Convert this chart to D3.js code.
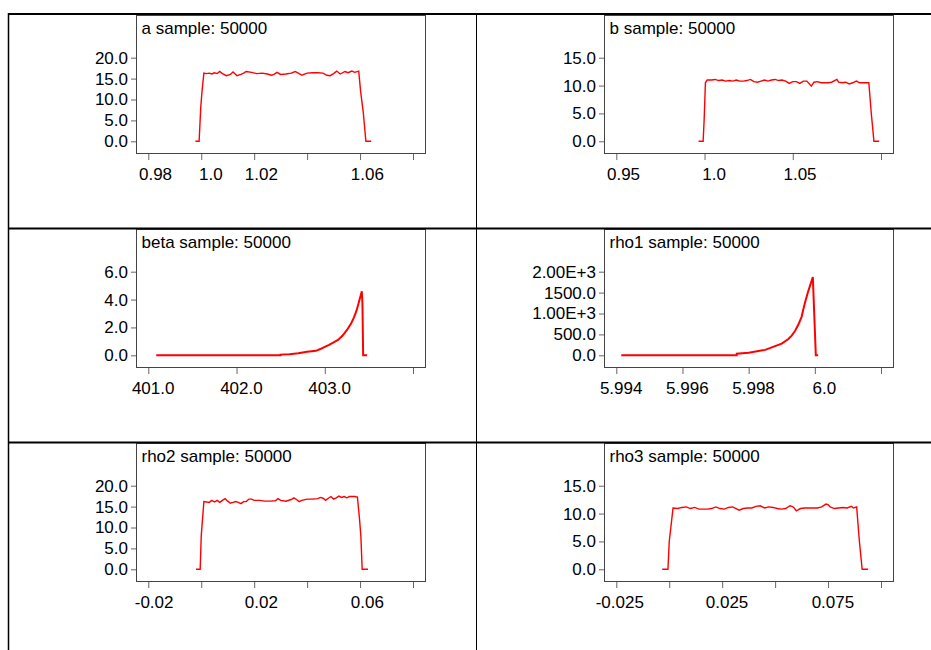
<!DOCTYPE html>
<html lang="en">
<head>
    <meta charset="UTF-8">
    <title>Density samples</title>
    <script src="https://d3js.org/d3.v7.min.js"></script>
    <style>
        body { margin: 0; background: white; }
        text { font-family: 'Liberation Sans', Arial, sans-serif; }
    </style>
</head>
<body>
<script>

    const titles = ["a sample: 50000", "b sample: 50000", "beta sample: 50000",
                    "rho1 sample: 50000", "rho2 sample: 50000", "rho3 sample: 50000"];

    // density curves, [value, density]
    const aDens = [[0.9978,0],[0.9992,0],[0.9998,8],[1.0003,12],[1.0010,16.3],[1.002,16.2],[1.003,16.3],[1.004,16.1],
        [1.005,16.4],[1.006,16.2],[1.007,16.7],[1.008,16.2],[1.0095,15.7],[1.011,16.0],[1.012,16.6],[1.0135,15.7],
        [1.015,16.0],[1.016,16.3],[1.017,16.7],[1.019,16.5],[1.021,16.2],[1.023,16.3],[1.025,16.1],[1.0265,15.8],
        [1.0275,16.0],[1.0286,16.5],[1.030,16.0],[1.032,16.1],[1.034,16.3],[1.0355,16.7],[1.037,16.2],[1.038,15.8],
        [1.040,16.3],[1.042,16.4],[1.044,16.4],[1.046,16.3],[1.0475,15.8],[1.0487,15.7],[1.050,16.2],[1.0512,16.8],
        [1.0525,16.1],[1.0543,16.7],[1.0555,16.4],[1.0569,16.8],[1.058,16.5],[1.0595,16.8],[1.0602,12],[1.0612,7],
        [1.0622,0],[1.0642,0]];
    const bDens = [[0.9966,0],[0.9992,0],[0.9998,4],[1.0005,10.5],[1.0015,11.0],[1.004,11.0],[1.006,11.1],[1.008,10.9],
        [1.010,11.0],[1.012,10.8],[1.014,10.9],[1.016,10.8],[1.018,11.0],[1.020,10.8],[1.022,10.8],[1.024,10.9],
        [1.026,11.1],[1.028,10.7],[1.030,10.6],[1.032,10.8],[1.034,11.0],[1.036,10.8],[1.038,11.0],[1.040,11.1],
        [1.042,10.9],[1.044,11.0],[1.046,10.8],[1.048,10.4],[1.050,10.7],[1.052,10.7],[1.054,10.4],[1.056,10.8],
        [1.058,10.8],[1.0605,9.9],[1.062,10.6],[1.064,10.7],[1.066,10.5],[1.068,10.5],[1.070,10.5],[1.072,10.6],
        [1.075,11.1],[1.076,10.6],[1.078,10.5],[1.080,10.6],[1.082,10.3],[1.084,10.5],[1.086,10.8],[1.088,10.5],
        [1.0931,10.5],[1.0945,5],[1.096,0],[1.099,0]];
    const betaDens = [[401.09,0],[402.50,0],[402.50,0.05],[402.6,0.08],[402.70,0.15],[402.8,0.25],[402.9,0.32],
        [402.95,0.45],[403.0,0.6],[403.05,0.75],[403.1,0.92],[403.15,1.1],[403.2,1.4],[403.25,1.8],[403.3,2.3],
        [403.33,2.7],[403.36,3.2],[403.39,3.9],[403.42,4.6],[403.427,3.7],[403.435,0],[403.48,0]];
    const rho1Dens = [[5.99415,0],[5.99764,0],[5.99764,40],[5.9980,60],[5.9985,130],[5.9988,220],[5.9990,280],
        [5.9992,390],[5.9993,470],[5.9994,580],[5.9995,730],[5.9996,920],[5.99965,1090],[5.9997,1250],
        [5.9998,1530],[5.99994,1870],[6.00003,0],[6.0001,0]];
    const rho2Dens = [[-0.0020,0],[-0.0004,0],[0.0,8],[0.001,16.2],[0.003,16.0],[0.004,16.5],[0.005,16.1],[0.006,16.5],
        [0.007,16.0],[0.008,16.5],[0.009,16.9],[0.010,16.3],[0.011,15.8],[0.012,16.0],[0.013,16.2],[0.014,16.0],
        [0.015,15.7],[0.016,16.2],[0.017,16.2],[0.018,16.8],[0.019,16.8],[0.020,16.5],[0.022,16.5],[0.024,16.3],
        [0.026,16.3],[0.028,16.4],[0.029,16.9],[0.030,16.5],[0.032,16.3],[0.034,16.7],[0.035,17.1],[0.036,16.7],
        [0.037,16.2],[0.038,16.5],[0.040,16.8],[0.042,16.8],[0.044,16.9],[0.045,17.2],[0.046,17.0],[0.047,16.5],
        [0.048,17.0],[0.049,17.4],[0.050,16.8],[0.051,17.1],[0.052,17.5],[0.053,17.2],[0.054,17.4],[0.055,17.1],
        [0.056,17.4],[0.058,17.4],[0.059,17.3],[0.0598,12],[0.0603,8],[0.0608,0],[0.063,0]];
    const rho3Dens = [[-0.0033,0],[-0.0006,0],[0.0,5],[0.0018,11.0],[0.004,10.9],[0.006,11.1],[0.008,11.2],[0.010,10.9],
        [0.012,11.1],[0.014,10.8],[0.016,10.8],[0.018,10.8],[0.020,10.9],[0.022,11.2],[0.024,10.9],[0.026,10.8],
        [0.028,11.1],[0.030,11.2],[0.032,10.8],[0.033,10.6],[0.035,10.9],[0.037,11.0],[0.039,11.0],[0.041,11.3],
        [0.043,11.4],[0.045,11.0],[0.047,11.2],[0.049,11.1],[0.051,10.9],[0.053,10.8],[0.055,10.9],[0.057,11.4],
        [0.058,11.3],[0.059,11.0],[0.060,10.5],[0.062,10.9],[0.064,11.0],[0.066,11.0],[0.068,11.0],[0.070,11.0],
        [0.072,11.2],[0.074,11.7],[0.075,11.6],[0.076,11.2],[0.078,10.9],[0.080,11.0],[0.082,11.1],[0.084,11.0],
        [0.086,11.3],[0.087,11.0],[0.0885,11.2],[0.0898,5],[0.0911,0],[0.0939,0]];

    // x ticks and labels (blank = unlabelled tick)
    const aXTicks = [0.98,1.0,1.02,1.04,1.06,1.08];     const aXLabels = ["0.98","1.0","1.02","","1.06",""];
    const bXTicks = [0.95,1.0,1.05,1.10];               const bXLabels = ["0.95","1.0","1.05",""];
    const betaXTicks = [401,402,403,404];               const betaXLabels = ["401.0","402.0","403.0",""];
    const rho1XTicks = [5.994,5.996,5.998,6.0,6.002];   const rho1XLabels = ["5.994","5.996","5.998","6.0",""];
    const rho2XTicks = [-0.02,0,0.02,0.04,0.06,0.08];   const rho2XLabels = ["-0.02","","0.02","","0.06",""];
    const rho3XTicks = [-0.025,0,0.025,0.05,0.075,0.1]; const rho3XLabels = ["-0.025","","0.025","","0.075",""];

    // y ticks and labels
    const aYTicks = [0,5,10,15,20];           const aYLabels = ["0.0","5.0","10.0","15.0","20.0"];
    const bYTicks = [0,5,10,15];              const bYLabels = ["0.0","5.0","10.0","15.0"];
    const betaYTicks = [0,2,4,6];             const betaYLabels = ["0.0","2.0","4.0","6.0"];
    const rho1YTicks = [0,500,1000,1500,2000]; const rho1YLabels = ["0.0","500.0","1.00E+3","1500.0","2.00E+3"];

    const panels = [
        {title: titles[0], data: aDens,    xt: aXTicks,    xl: aXLabels,    yt: aYTicks,    yl: aYLabels,    lw: 1.4},
        {title: titles[1], data: bDens,    xt: bXTicks,    xl: bXLabels,    yt: bYTicks,    yl: bYLabels,    lw: 1.4},
        {title: titles[2], data: betaDens, xt: betaXTicks, xl: betaXLabels, yt: betaYTicks, yl: betaYLabels, lw: 2},
        {title: titles[3], data: rho1Dens, xt: rho1XTicks, xl: rho1XLabels, yt: rho1YTicks, yl: rho1YLabels, lw: 2},
        {title: titles[4], data: rho2Dens, xt: rho2XTicks, xl: rho2XLabels, yt: aYTicks,    yl: aYLabels,    lw: 1.4},
        {title: titles[5], data: rho3Dens, xt: rho3XTicks, xl: rho3XLabels, yt: bYTicks,    yl: bYLabels,    lw: 1.4}
    ];

    const width = 931, height = 650;
    const cols = [136, 604], rows = [15, 229, 443];
    const fw = 289, fh = 138;
    const fontSize = 17;

    const svg = d3.select("body").append("svg").attr("width", width).attr("height", height);

    panels.forEach((p, i) => {
        const left = cols[i % 2], top = rows[Math.floor(i / 2)];
        const x = d3.scaleLinear().domain([p.xt[0], p.xt[p.xt.length - 1]]).range([left + 12.3, left + fw - 12]);
        const y = d3.scaleLinear().domain([0, p.yt[p.yt.length - 1]]).range([top + 126.3, top + 42.7]);
        const g = svg.append("g");

        g.append("rect")
            .attr("x", left + 0.5).attr("y", top + 0.5)
            .attr("width", fw).attr("height", fh)
            .attr("fill", "none").attr("stroke", "#444");

        g.append("path").datum(p.data)
            .attr("d", d3.line().x(d => x(d[0])).y(d => y(d[1])))
            .attr("fill", "none").attr("stroke", "#ff0000").attr("stroke-width", p.lw);

        const ya = g.append("g").attr("transform", `translate(${left},0)`)
            .call(d3.axisLeft(y).tickValues(p.yt).tickFormat((d, j) => p.yl[j]).tickSize(5).tickPadding(3));
        ya.select(".domain").remove();

        const xa = g.append("g").attr("transform", `translate(0,${top + fh + 1})`)
            .call(d3.axisBottom(x).tickValues(p.xt).tickFormat((d, j) => p.xl[j]).tickSize(6));
        xa.select(".domain").remove();

        [ya, xa].forEach(a => {
            a.attr("font-size", fontSize).attr("font-family", "'Liberation Sans', Arial, sans-serif");
            a.selectAll("line").attr("stroke", "#666");
            a.selectAll("text").attr("fill", "#000");
        });
        xa.selectAll("text").attr("y", 26).attr("dy", null)
            .attr("x", function () { return 15 - this.getComputedTextLength() / 4; });

        g.append("text")
            .attr("x", left + 5.5).attr("y", top + 18.5)
            .attr("font-size", fontSize)
            .text(p.title);
    });

    // table rules
    const rules = [
        [8, 14, width, 14, 2], [8, 228.5, width, 228.5, 2], [8, 442.5, width, 442.5, 2],
        [8.5, 13, 8.5, height, 1.5], [476.5, 14, 476.5, height, 1]
    ];
    svg.selectAll("line.rule").data(rules).enter().append("line").attr("class", "rule")
        .attr("x1", d => d[0]).attr("y1", d => d[1]).attr("x2", d => d[2]).attr("y2", d => d[3])
        .attr("stroke", "#000").attr("stroke-width", d => d[4]);

</script>
</body>
</html>
